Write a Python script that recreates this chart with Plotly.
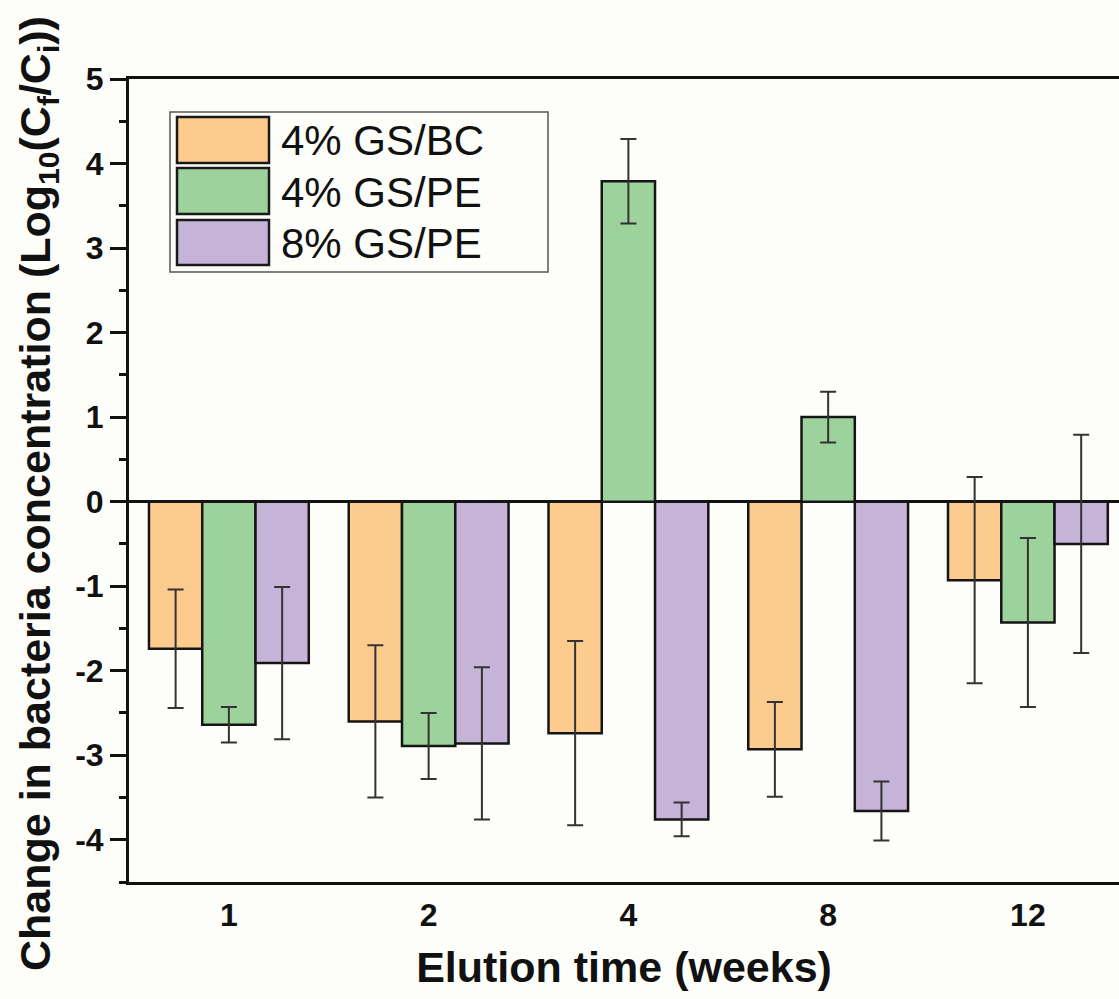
import plotly.graph_objects as go

weeks = ["1", "2", "4", "8", "12"]
series_names = ["4% GS/BC", "4% GS/PE", "8% GS/PE"]
gs_bc_4 = [-1.74, -2.60, -2.74, -2.93, -0.93]
gs_bc_4_err = [0.70, 0.90, 1.09, 0.56, 1.22]
gs_pe_4 = [-2.64, -2.89, 3.79, 1.00, -1.43]
gs_pe_4_err = [0.21, 0.39, 0.50, 0.30, 1.00]
gs_pe_8 = [-1.91, -2.86, -3.76, -3.66, -0.50]
gs_pe_8_err = [0.90, 0.90, 0.20, 0.35, 1.29]
y_tick_vals = [-4, -3, -2, -1, 0, 1, 2, 3, 4, 5]
y_tick_text = ["-4", "-3", "-2", "-1", "0", "1", "2", "3", "4", "5"]

colors = ["#FECB8F", "#9DD29C", "#C6B3D8"]
values = [gs_bc_4, gs_pe_4, gs_pe_8]
errors = [gs_bc_4_err, gs_pe_4_err, gs_pe_8_err]

W, H = 1119, 999
L, R, T, B = 129, 0, 79, 117
bg = "#fdfdfa"
FONT = "Liberation Sans, Arial"

fig = go.Figure()
for name, vals, errs, c in zip(series_names, values, errors, colors):
    fig.add_trace(go.Bar(
        x=weeks, y=vals, name=name,
        marker=dict(color=c, line=dict(color="#151515", width=2.5)),
        error_y=dict(type="data", array=errs, visible=True,
                     color="#333333", thickness=2, width=8),
        showlegend=False,
    ))

pw = W - L - R
ph = H - T - B


def px_x(p):
    return (p - L) / pw


def px_y(p):
    return (H - B - p) / ph


# custom legend (large swatches as in the reference)
shapes = [dict(type="rect", xref="paper", yref="paper",
               x0=px_x(170), x1=px_x(548), y0=px_y(272), y1=px_y(112),
               line=dict(color="#555555", width=1.5), fillcolor=bg, layer="below")]
rows = [(117, 163), (168, 214), (220, 265)]
annotations = []
for (y0, y1), name, c in zip(rows, series_names, colors):
    shapes.append(dict(type="rect", xref="paper", yref="paper",
                       x0=px_x(177), x1=px_x(269), y0=px_y(y1), y1=px_y(y0),
                       line=dict(color="#1a1a1a", width=2.5), fillcolor=c))
    annotations.append(dict(xref="paper", yref="paper", x=px_x(279), y=px_y((y0 + y1) / 2 + 1),
                            text=name, showarrow=False, xanchor="left", yanchor="middle",
                            font=dict(family=FONT, size=42, color="#111111")))

# y-axis title (placed as in the reference)
annotations.append(dict(
    xref="paper", yref="paper", x=px_x(38), y=px_y(494),
    text="<b>Change in bacteria concentration (Log<sub>10</sub>(C<sub>f</sub>/C<sub>i</sub>))</b>",
    textangle=-90, showarrow=False, xanchor="center", yanchor="middle",
    font=dict(family=FONT, size=43, color="#111111")))

fig.update_layout(
    width=W, height=H,
    margin=dict(l=L, r=R, t=T, b=B, autoexpand=False),
    paper_bgcolor=bg, plot_bgcolor=bg,
    barmode="group", bargap=0.2, bargroupgap=0.0,
    font=dict(family=FONT, color="#111111"),
    shapes=shapes, annotations=annotations,
)

fig.update_xaxes(
    type="category", range=[-0.5, 4.456],
    showline=True, linecolor="#111111", linewidth=3, mirror=True,
    ticks="outside", ticklen=3, tickcolor="rgba(0,0,0,0)",
    showgrid=False, zeroline=False,
    tickfont=dict(family=FONT, size=32, color="#111111", weight="bold"),
    title=dict(text="<b>Elution time (weeks)</b>", standoff=20,
               font=dict(family=FONT, size=43, color="#111111")),
)

fig.update_yaxes(
    range=[-4.5, 5], tickvals=y_tick_vals, ticktext=y_tick_text,
    showline=True, linecolor="#111111", linewidth=3, mirror=False,
    ticks="outside", ticklen=16, tickwidth=2.5, tickcolor="#111111",
    minor=dict(ticks="outside", ticklen=7, tickwidth=2.5, tickcolor="#111111", dtick=0.5),
    showgrid=False,
    zeroline=True, zerolinecolor="#111111", zerolinewidth=3,
    tickfont=dict(family=FONT, size=32, color="#111111", weight="bold"),
)

fig.write_html("out.html")
